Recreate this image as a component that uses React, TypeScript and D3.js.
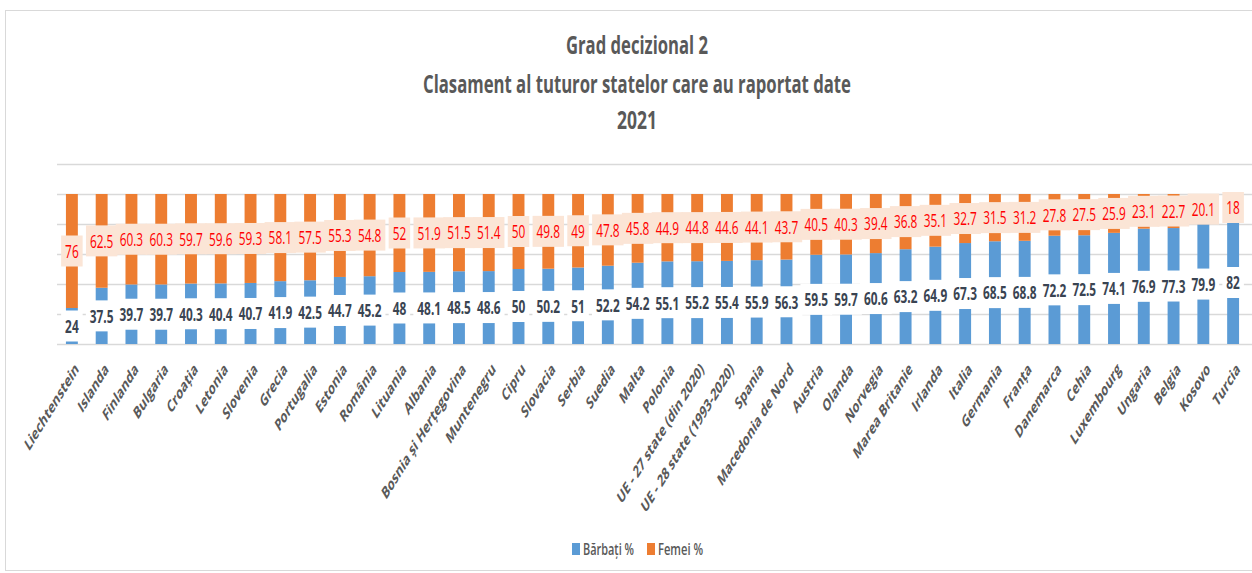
import React, { useEffect, useRef } from "react";
import * as d3 from "d3";

const categories = [
  "Liechtenstein", "Islanda", "Finlanda", "Bulgaria", "Croația", "Letonia", "Slovenia", "Grecia",
  "Portugalia", "Estonia", "România", "Lituania", "Albania", "Bosnia și Herțegovina", "Muntenegru",
  "Cipru", "Slovacia", "Serbia", "Suedia", "Malta", "Polonia", "UE - 27 state (din 2020)",
  "UE - 28 state (1993-2020)", "Spania", "Macedonia de Nord", "Austria", "Olanda", "Norvegia",
  "Marea Britanie", "Irlanda", "Italia", "Germania", "Franța", "Danemarca", "Cehia", "Luxembourg",
  "Ungaria", "Belgia", "Kosovo", "Turcia",
];

const barbati = [
  24, 37.5, 39.7, 39.7, 40.3, 40.4, 40.7, 41.9, 42.5, 44.7, 45.2, 48, 48.1, 48.5, 48.6, 50, 50.2, 51,
  52.2, 54.2, 55.1, 55.2, 55.4, 55.9, 56.3, 59.5, 59.7, 60.6, 63.2, 64.9, 67.3, 68.5, 68.8, 72.2, 72.5,
  74.1, 76.9, 77.3, 79.9, 82,
];

const femei = [
  76, 62.5, 60.3, 60.3, 59.7, 59.6, 59.3, 58.1, 57.5, 55.3, 54.8, 52, 51.9, 51.5, 51.4, 50, 49.8, 49,
  47.8, 45.8, 44.9, 44.8, 44.6, 44.1, 43.7, 40.5, 40.3, 39.4, 36.8, 35.1, 32.7, 31.5, 31.2, 27.8, 27.5,
  25.9, 23.1, 22.7, 20.1, 18,
];

const titleLines = ["Grad decizional 2", "Clasament al tuturor statelor care au raportat date", "2021"];
const seriesNames = ["Bărbați %", "Femei %"];
const yTicks = [0, 0.2, 0.4, 0.6, 0.8, 1, 1.2];

const FONT = "'Open Sans', 'Liberation Sans', sans-serif";
const SX = 0.64; // the original picture is squeezed horizontally

const App = () => {
  const ref = useRef<SVGSVGElement | null>(null);

  useEffect(() => {
    document.body.style.margin = "0";
    drawChart();
  }, []);

  function drawChart() {
    const width = 1252;
    const svg = d3.select(ref.current);
    svg.selectAll("*").remove();

    svg
      .append("rect")
      .attr("x", 5.5)
      .attr("y", 10.5)
      .attr("width", 1260)
      .attr("height", 560)
      .attr("fill", "#fff")
      .attr("stroke", "#d9d9d9");

    // title
    const titleY = [54, 93, 129];
    const titleW = [142, 428, 40];
    titleLines.forEach((t, i) => {
      svg
        .append("text")
        .attr("x", 637)
        .attr("y", titleY[i])
        .attr("text-anchor", "middle")
        .attr("font-family", FONT)
        .attr("font-weight", 700)
        .attr("font-size", 25)
        .attr("fill", "#595959")
        .attr("textLength", titleW[i])
        .attr("lengthAdjust", "spacingAndGlyphs")
        .text(t);
    });

    const rows = categories.map((c, i) => ({ cat: c, b: barbati[i], f: femei[i] }));
    const stack = d3.stack<any>().keys(["b", "f"]).offset(d3.stackOffsetExpand);
    const series = stack(rows);

    const x = d3.scaleBand().domain(categories).range([57, 1248]).paddingInner(0.6).paddingOuter(0.3);
    const y = d3.scaleLinear().domain([0, 1.2]).range([344, 164]);
    const color = d3.scaleOrdinal<string>().domain(["b", "f"]).range(["#5B9BD5", "#ED7D31"]);

    // gridlines
    svg
      .append("g")
      .attr("transform", "translate(57,0)")
      .call(
        d3
          .axisLeft(y)
          .tickValues(yTicks)
          .tickSize(-(width - 57))
          .tickFormat(() => "")
      )
      .call((g) => g.select(".domain").remove())
      .call((g) => g.selectAll(".tick line").attr("stroke", "#d9d9d9").attr("stroke-width", 1.5));

    // bars
    svg
      .append("g")
      .selectAll("g")
      .data(series)
      .join("g")
      .attr("fill", (d: any) => color(d.key))
      .selectAll("rect")
      .data((d: any) => d)
      .join("rect")
      .attr("x", (d: any) => x(d.data.cat))
      .attr("width", x.bandwidth())
      .attr("y", (d: any) => y(d[1]))
      .attr("height", (d: any) => y(d[0]) - y(d[1]));

    // data labels
    const addLabels = (s: any, bg: string, fg: string, weight: number) => {
      const g = svg.append("g");
      s.forEach((d: any) => {
        const cx = (x(d.data.cat) as number) + x.bandwidth() / 2;
        const cy = y((d[0] + d[1]) / 2);
        const lg = g.append("g").attr("transform", `translate(${cx},${cy})`);
        const rect = lg.append("rect").attr("fill", bg);
        const txt = lg
          .append("text")
          .attr("transform", `scale(${SX},1)`)
          .attr("text-anchor", "middle")
          .attr("dy", "0.37em")
          .attr("font-family", FONT)
          .attr("font-weight", weight)
          .attr("font-size", 18.5)
          .attr("fill", fg)
          .text(String(d.data[s.key]));
        const w = (txt.node() as SVGTextElement).getComputedTextLength() * SX;
        rect
          .attr("x", -w / 2 - 4)
          .attr("width", w + 8)
          .attr("y", -15.5)
          .attr("height", 31);
      });
    };
    addLabels(series[1], "#FBE5D6", "#FF0000", 400);
    addLabels(series[0], "#FFFFFF", "#3A4452", 700);

    // category labels
    const xl = svg.append("g");
    categories.forEach((c) => {
      const cx = (x(c) as number) + x.bandwidth() / 2;
      xl.append("g")
        .attr("transform", `translate(${cx + 5},${366}) scale(0.62,1) rotate(-45)`)
        .append("text")
        .attr("text-anchor", "end")
        .attr("dy", "0.35em")
        .attr("font-family", FONT)
        .attr("font-weight", 700)
        .attr("font-size", 17)
        .attr("fill", "#595959")
        .text(c);
    });

    // legend
    const legend = svg.append("g");
    const lx = [572, 647];
    const lw = [51, 45];
    seriesNames.forEach((n, i) => {
      legend
        .append("rect")
        .attr("x", lx[i])
        .attr("y", 543)
        .attr("width", 8)
        .attr("height", 12)
        .attr("fill", color(i === 0 ? "b" : "f"));
      legend
        .append("text")
        .attr("x", lx[i] + 11)
        .attr("y", 555)
        .attr("font-family", FONT)
        .attr("font-weight", 600)
        .attr("font-size", 17)
        .attr("fill", "#595959")
        .attr("textLength", lw[i])
        .attr("lengthAdjust", "spacingAndGlyphs")
        .text(n);
    });
  }

  return <svg ref={ref} width={1252} height={573} style={{ display: "block" }} />;
};

export default App;
